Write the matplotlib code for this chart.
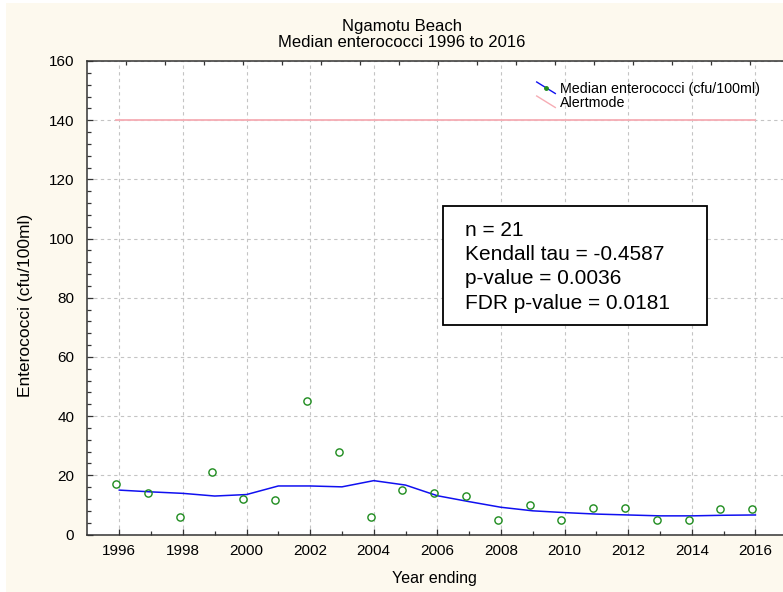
import numpy as np
import matplotlib
matplotlib.use("Agg")
import matplotlib.pyplot as plt
from matplotlib.lines import Line2D
from matplotlib.patches import Rectangle
from matplotlib.legend_handler import HandlerBase

plt.rcParams['font.family'] = ['Liberation Sans', 'DejaVu Sans']

# ---- data ----
years = np.arange(1996, 2017)
median_entero = [17, 14, 6, 21, 12, 11.5, 45, 28, 6, 15, 14, 13, 5, 10, 5, 9, 9, 5, 5, 8.5, 8.5]
trend = [15.0, 14.4, 13.9, 13.0, 13.5, 16.4, 16.4, 16.1, 18.2, 16.7, 13.1, 11.1, 9.2, 8.0,
         7.4, 6.9, 6.6, 6.3, 6.3, 6.5, 6.6]
alert_level = 140
point_offset = -0.1  # points plotted just before year end
stats_lines = ["n = 21", "Kendall tau = -0.4587", "p-value = 0.0036", "FDR p-value = 0.0181"]
title_lines = ["Ngamotu Beach", "Median enterococci 1996 to 2016"]
legend_labels = ["Median enterococci (cfu/100ml)", "Alertmode"]

W, H = 783, 592
fig = plt.figure(figsize=(W / 100, H / 100), dpi=100, facecolor='white')
# cream background panel
fig.patches.append(Rectangle((6 / W, 0), 1, 1 - 3 / H, transform=fig.transFigure,
                             facecolor='#FDF9EE', edgecolor='none', zorder=-10))

ax_l, ax_b = 86.7, 534.5
ax_w, ax_h = 700.5, 473.5
ax = fig.add_axes([ax_l / W, (H - ax_b) / H, ax_w / W, ax_h / H])
ax.set_facecolor('white')
ax.set_xlim(1994.975, 2017.0)
ax.set_ylim(0, 160)

# grid
ax.set_xticks(np.arange(1996, 2017, 2))
ax.set_xticks(np.arange(1997, 2017, 2), minor=True)
ax.set_yticks(np.arange(0, 161, 20))
ax.set_yticks(np.arange(0, 161, 4), minor=True)
ax.grid(True, which='major', color='#C4C4C4', linestyle=(0, (3, 3)), linewidth=0.8)
ax.set_axisbelow(True)

for s in ['left', 'bottom', 'top']:
    ax.spines[s].set_color('#333333')
    ax.spines[s].set_linewidth(1.1)
ax.spines['right'].set_visible(False)

ax.tick_params(axis='both', which='major', direction='in', length=4, width=0.9,
               color='#333333', labelsize=11, labelcolor='black')
ax.tick_params(axis='both', which='minor', direction='in', length=3, width=0.9, color='#333333')
ax.tick_params(axis='x', which='both', pad=7)
ax.tick_params(axis='y', which='both', pad=9)
ax.set_yticklabels([str(v) for v in range(0, 161, 20)])

# top axis ticks (secondary scale)
ax2 = ax.twiny()
ax2.set_xlim(0, 17.96)
ax2.set_xticks(np.arange(1, 18))
ax2.tick_params(axis='x', which='major', direction='in', length=3, width=0.9, color='#333333',
                labeltop=False)
for s in ax2.spines.values():
    s.set_visible(False)

# data
xpts = years + point_offset
ax.plot(xpts, median_entero, linestyle='none', marker='o', markersize=5.2,
        markerfacecolor='none', markeredgecolor='#1E8C1E', markeredgewidth=1.0, zorder=4)
ax.plot(years, trend, color='#1010F0', linewidth=1.1, zorder=3)
ax.plot([xpts[0], years[-1]], [alert_level, alert_level], color='#F6ACB4', linewidth=1.3, zorder=3)


# legend with diagonal handles
class DiagHandler(HandlerBase):
    def __init__(self, color, marker_color=None):
        super().__init__()
        self.color = color
        self.marker_color = marker_color

    def create_artists(self, legend, orig_handle, xdescent, ydescent, width, height, fontsize, trans):
        x0, x1 = -xdescent, -xdescent + width
        y0, y1 = -ydescent + height * 1.1, -ydescent - height * 0.05
        arts = [Line2D([x0, x1], [y0, y1], color=self.color, lw=1.0, transform=trans)]
        if self.marker_color:
            arts.append(Line2D([(x0 + x1) / 2], [(y0 + y1) / 2], marker='o', markersize=2.5,
                               color=self.marker_color, linestyle='none', transform=trans))
        return arts


h1 = Line2D([], [], color='#1010F0')
h2 = Line2D([], [], color='#F6ACB4')
leg = ax.legend([h1, h2], legend_labels,
                handler_map={h1: DiagHandler('#1010F0', '#1E8C1E'), h2: DiagHandler('#F6ACB4')},
                loc='upper left', bbox_to_anchor=((536.7 - ax_l) / ax_w, (ax_b - 82) / ax_h),
                frameon=False, fontsize=10.3, handlelength=1.3, handleheight=0.7,
                handletextpad=0.35, labelspacing=0.0, borderpad=0, borderaxespad=0)

# stats box
def axc(px, py):
    return (px - ax_l) / ax_w, (ax_b - py) / ax_h

bx0, by0 = axc(443.3, 325)
bx1, by1 = axc(706.7, 206)
ax.add_patch(Rectangle((bx0, by0), bx1 - bx0, by1 - by0, transform=ax.transAxes,
                       facecolor='white', edgecolor='black', linewidth=1.3, zorder=5))
line_y = [230.3, 255, 278.7, 303.3]
for txt, py in zip(stats_lines, line_y):
    tx, ty = axc(465, py)
    ax.text(tx, ty, txt, transform=ax.transAxes, fontsize=15, va='center', ha='left', zorder=6)

# titles and labels
fig.text(401.7 / W, 1 - 30.7 / H, title_lines[0], ha='center', va='baseline', fontsize=12)
fig.text(401.7 / W, 1 - 46.7 / H, title_lines[1], ha='center', va='baseline', fontsize=12)
fig.text(434 / W, 1 - 582.7 / H, "Year ending", ha='center', va='baseline', fontsize=11.5)
fig.text(25.8 / W, 1 - 305 / H, "Enterococci (cfu/100ml)", ha='center', va='center',
         rotation=90, fontsize=12.5)

fig.savefig("out.png", dpi=100, facecolor=fig.get_facecolor())
